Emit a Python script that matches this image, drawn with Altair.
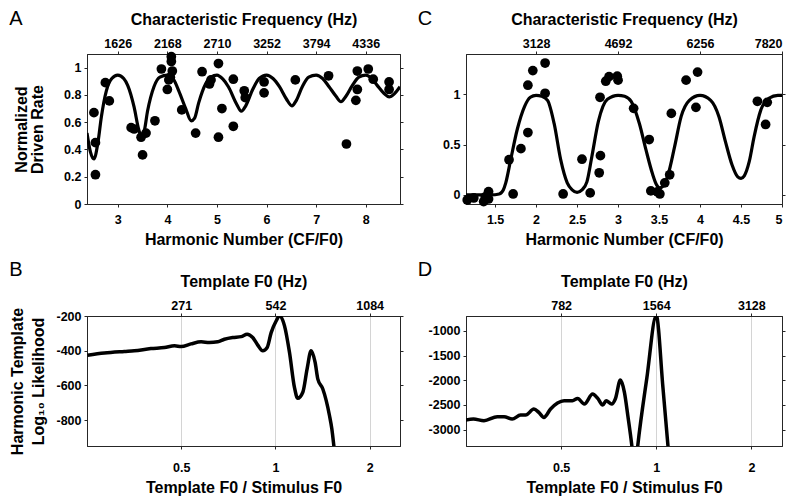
import altair as alt
import pandas as pd

# ---------------- Panel A ----------------
a_pts_x = [2.52, 2.55, 2.55, 2.75, 2.83, 3.27, 3.33, 3.47, 3.57, 3.50, 3.75, 3.88, 4.00, 4.03,
           4.08, 4.08, 4.10, 4.06, 4.29, 4.57, 4.70, 4.85, 4.88, 5.03, 5.10, 5.03, 5.33, 5.33,
           5.55, 5.57, 5.95, 5.95, 6.58, 7.25, 7.61, 7.83, 7.83, 7.80, 8.05, 8.15, 8.47, 8.47]
a_pts_y = [0.67, 0.45, 0.215, 0.89, 0.756, 0.56, 0.55, 0.49, 0.52, 0.36, 0.61, 0.99, 0.84, 0.91,
           1.08, 1.045, 0.975, 0.93, 0.69, 0.52, 0.97, 0.88, 0.91, 1.03, 0.70, 0.49, 0.915, 0.57,
           0.83, 0.78, 0.895, 0.815, 0.91, 0.94, 0.44, 0.975, 0.84, 0.76, 0.99, 0.915, 0.895, 0.84]
a_fit_x = [2.38, 2.45, 2.52, 2.60, 2.67, 2.77, 2.88, 3.00, 3.12, 3.20, 3.33, 3.42, 3.47, 3.53,
           3.60, 3.73, 3.85, 4.00, 4.13, 4.23, 4.37, 4.48, 4.55, 4.63, 4.77, 4.88, 5.00, 5.12,
           5.23, 5.40, 5.49, 5.58, 5.72, 5.85, 6.00, 6.13, 6.26, 6.40, 6.51, 6.60, 6.72, 6.85,
           7.00, 7.13, 7.26, 7.40, 7.50, 7.60, 7.73, 7.86, 8.00, 8.12, 8.23, 8.37, 8.47, 8.58, 8.69]
a_fit_y = [0.52, 0.38, 0.33, 0.45, 0.64, 0.83, 0.92, 0.945, 0.92, 0.87, 0.71, 0.55, 0.50, 0.53,
           0.68, 0.86, 0.93, 0.945, 0.91, 0.83, 0.70, 0.61, 0.63, 0.74, 0.88, 0.93, 0.945, 0.915,
           0.86, 0.73, 0.68, 0.72, 0.84, 0.92, 0.945, 0.92, 0.86, 0.77, 0.72, 0.76, 0.86, 0.93,
           0.945, 0.92, 0.86, 0.79, 0.75, 0.79, 0.87, 0.93, 0.945, 0.92, 0.87, 0.81, 0.785, 0.81, 0.86]
a_x_ticks = [3, 4, 5, 6, 7, 8]
a_top_ticks = [3, 4, 5, 6, 7, 8]
a_top_labels = ["1626", "2168", "2710", "3252", "3794", "4336"]
a_y_ticks = [0, 0.2, 0.4, 0.6, 0.8, 1]

# ---------------- Panel C ----------------
c_pts_x = [1.16, 1.24, 1.36, 1.42, 1.42, 1.38, 1.67, 1.72, 1.815, 1.90, 1.90, 1.96, 2.11, 2.11,
           2.33, 2.56, 2.66, 2.78, 2.785, 2.77, 2.85, 2.89, 2.99, 3.00, 3.19, 3.38, 3.40, 3.48,
           3.51, 3.57, 3.63, 3.65, 3.83, 3.97, 3.95, 4.70, 4.82, 4.80]
c_pts_y = [-0.05, -0.03, -0.066, -0.04, 0.033, -0.02, 0.35, 0.01, 0.46, 0.62, 1.09, 1.235, 1.31, 1.01,
           0.01, 0.355, 0.02, 0.97, 0.39, 0.22, 1.13, 1.175, 1.18, 1.14, 0.86, 0.55, 0.04, 0.03,
           0.01, 0.12, 0.20, 0.81, 1.14, 1.22, 0.87, 0.93, 0.92, 0.70]
c_fit_x = [1.145, 1.30, 1.45, 1.55, 1.60, 1.63, 1.69, 1.77, 1.86, 1.93, 2.00, 2.07, 2.14, 2.22,
           2.30, 2.38, 2.44, 2.50, 2.56, 2.62, 2.68, 2.76, 2.87, 3.00, 3.08, 3.16, 3.26, 3.34,
           3.42, 3.47, 3.51, 3.56, 3.61, 3.69, 3.77, 3.87, 4.00, 4.13, 4.23, 4.31, 4.39, 4.46,
           4.50, 4.54, 4.60, 4.66, 4.74, 4.84, 4.95, 5.00]
c_fit_y = [0.0, 0.0, 0.0, 0.01, 0.05, 0.12, 0.35, 0.65, 0.88, 0.97, 0.99, 0.98, 0.94, 0.71,
           0.35, 0.12, 0.05, 0.025, 0.05, 0.13, 0.38, 0.73, 0.95, 0.99, 0.98, 0.93, 0.71, 0.45,
           0.21, 0.10, 0.07, 0.10, 0.20, 0.48, 0.78, 0.94, 0.99, 0.94, 0.78, 0.53, 0.30, 0.18,
           0.165, 0.19, 0.33, 0.58, 0.84, 0.96, 0.99, 0.99]
c_x_ticks = [1.5, 2, 2.5, 3, 3.5, 4, 4.5, 5]
c_top_ticks = [2, 3, 4, 5]
c_top_labels = ["3128", "4692", "6256", "7820"]
c_y_ticks = [0, 0.5, 1]

# ---------------- Panel B ----------------
b_x = [0.251, 0.284, 0.329, 0.354, 0.40, 0.442, 0.476, 0.50, 0.537, 0.579, 0.615, 0.654, 0.687,
       0.730, 0.777, 0.812, 0.846, 0.878, 0.911, 0.941, 0.969, 1.005, 1.03, 1.069, 1.109, 1.150,
       1.178, 1.223, 1.262, 1.300, 1.339, 1.366, 1.417, 1.488, 1.514, 1.536, 1.56]
b_y = [-426, -414, -405, -401, -388, -382, -372, -376, -361, -349, -353, -349, -334,
       -324, -319, -305, -324, -368, -401, -382, -296, -229, -200, -257, -411, -612,
       -675, -640, -506, -401, -468, -564, -621, -774, -851, -946, -1060]
b_ticks = [0.5, 1, 2]
b_top_labels = ["271", "542", "1084"]
b_y_ticks = [-200, -400, -600, -800]

# ---------------- Panel D ----------------
d_x = [0.249, 0.264, 0.285, 0.314, 0.330, 0.350, 0.372, 0.386, 0.410, 0.425, 0.441, 0.463, 0.487,
       0.511, 0.543, 0.564, 0.592, 0.629, 0.653, 0.677, 0.694, 0.723, 0.742, 0.770, 0.793, 0.813,
       0.837, 0.855, 0.874, 0.934, 1.0, 1.05, 1.089, 1.105]
d_y = [-2805, -2785, -2818, -2737, -2737, -2785, -2704, -2704, -2583, -2650, -2751, -2583, -2461,
       -2414, -2414, -2367, -2481, -2280, -2367, -2502, -2414, -2481, -2380, -1997, -2246, -2717,
       -3323, -3900, -3323, -1950, -690, -2150, -3323, -3800]
d_ticks = [0.5, 1, 2]
d_top_labels = ["782", "1564", "3128"]
d_y_ticks = [-1000, -1500, -2000, -2500, -3000]

FONT = "Liberation Sans"
INK = "#262626"


def label_expr(ticks, labels):
    expr = "''"
    for t, l in reversed(list(zip(ticks, labels))):
        expr = f"abs(datum.value - ({t})) < 1e-6 ? '{l}' : ({expr})"
    return expr


def panel(fit_x, fit_y, pts_x, pts_y, xdom, ydom, xtype, xticks, xtitle, top_ticks, top_labels,
          top_title, yticks, ytitle, w, h, letter, letter_dx, letter_dy, grid, line_w, lab_pad,
          title_pad, ytitle_pad, ytitle_lh):
    fit_df = pd.DataFrame({"x": fit_x, "y": fit_y})
    xs = alt.Scale(domain=xdom, type=xtype, nice=False, zero=False)
    ys = alt.Scale(domain=ydom, nice=False, zero=False)
    bottom_axis = alt.Axis(orient="bottom", values=xticks, labelExpr="datum.value + ''",
                           title=xtitle, grid=grid, gridColor="#d4d4d4", gridWidth=1,
                           labelPadding=lab_pad, titlePadding=title_pad)
    if ytitle is None:
        left_axis = alt.Axis(orient="left", values=yticks, labelExpr="datum.value + ''",
                             title=None, grid=False, labelPadding=3)
    else:
        left_axis = alt.Axis(orient="left", values=yticks, labelExpr="datum.value + ''",
                             title=ytitle, grid=False, labelPadding=3,
                             titlePadding=ytitle_pad, titleLineHeight=ytitle_lh)
    top_axis = alt.Axis(orient="top", values=top_ticks, labelExpr=label_expr(top_ticks, top_labels),
                        title=top_title, grid=False, labelPadding=1, titlePadding=10)
    right_axis = alt.Axis(orient="right", values=yticks, labels=False, title=None, grid=False)

    layers = [
        alt.Chart(fit_df).mark_line(color="black", strokeWidth=line_w, interpolate="monotone",
                                    clip=True).encode(
            x=alt.X("x:Q", scale=xs, axis=bottom_axis),
            y=alt.Y("y:Q", scale=ys, axis=left_axis),
        )
    ]
    if pts_x is not None:
        pts_df = pd.DataFrame({"x": pts_x, "y": pts_y})
        layers.append(
            alt.Chart(pts_df).mark_circle(color="black", size=95, opacity=1).encode(
                x=alt.X("x:Q", scale=xs, axis=None),
                y=alt.Y("y:Q", scale=ys, axis=None),
            )
        )
    layers.append(
        alt.Chart(fit_df).mark_line(strokeOpacity=0, clip=True).encode(
            x=alt.X("x:Q", scale=xs, axis=top_axis),
            y=alt.Y("y:Q", scale=ys, axis=right_axis),
        )
    )
    layers.append(
        alt.Chart(alt.Data(values=[{"t": letter}])).mark_text(
            font=FONT, fontSize=20, fontWeight="normal", color="black",
            align="center", baseline="middle").encode(
            text="t:N", x=alt.value(letter_dx), y=alt.value(letter_dy))
    )
    return alt.layer(*layers).resolve_axis(x="independent", y="independent").properties(
        width=w, height=h)


A = panel(a_fit_x, a_fit_y, a_pts_x, a_pts_y, [2.38, 8.69], [0, 1.1], "linear", a_x_ticks,
          "Harmonic Number (CF/F0)", a_top_ticks, a_top_labels, "Characteristic Frequency (Hz)",
          a_y_ticks, ["Normalized", "Driven Rate"], 313, 150, "A", -71, -35, False, 3.2, 6, 6,
          18, 16)
C = panel(c_fit_x, c_fit_y, c_pts_x, c_pts_y, [1.145, 5.0], [-0.09, 1.4], "linear", c_x_ticks,
          "Harmonic Number (CF/F0)", c_top_ticks, c_top_labels, "Characteristic Frequency (Hz)",
          c_y_ticks, None, 316, 150, "C", -41, -35, False, 3.2, 6, 6, 12, 16)
B = panel(b_x, b_y, None, None, [0.25, 2.5], [-950, -200], "log", b_ticks,
          "Template F0 / Stimulus F0", b_ticks, b_top_labels, "Template F0 (Hz)",
          b_y_ticks, ["Harmonic Template", "Log\u2081\u2080 Likelihood"], 313, 130, "B", -71, -46,
          True, 3.5, 12, 6, 9, 21)
D = panel(d_x, d_y, None, None, [0.25, 2.5], [-3330, -700], "log", d_ticks,
          "Template F0 / Stimulus F0", d_ticks, d_top_labels, "Template F0 (Hz)",
          d_y_ticks, None, 316, 130, "D", -41, -46, True, 3.5, 12, 6, 12, 20)

chart = alt.concat(A, C, B, D, columns=2, spacing={"row": 112, "column": 66},
                   bounds="flush").properties(
    padding={"left": 0, "top": 0, "right": 0, "bottom": 0}
).configure(font=FONT).configure_view(stroke=INK, strokeWidth=1).configure_axis(
    labelFont=FONT, labelFontWeight="bold", labelFontSize=12.5, labelColor="black",
    titleFont=FONT, titleFontWeight="bold", titleFontSize=16, titleColor="black",
    tickColor=INK, domainColor=INK, tickSize=3, domainWidth=1, tickWidth=1,
)

chart.save("out.html", embed_options={"renderer": "svg", "actions": False})
